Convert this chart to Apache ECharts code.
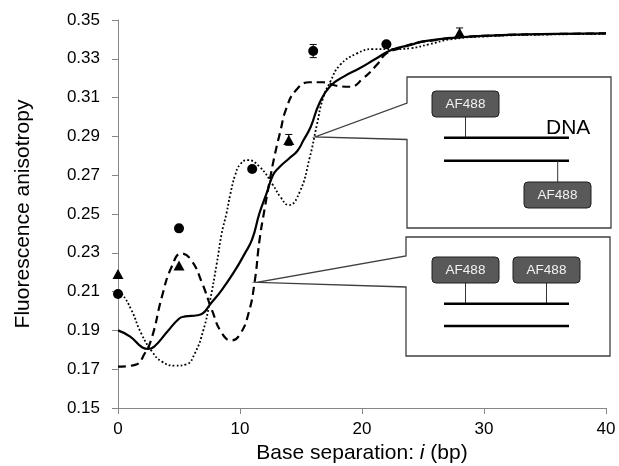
<!DOCTYPE html>
<html><head><meta charset="utf-8">
<script src="https://cdn.jsdelivr.net/npm/echarts@6/dist/echarts.min.js"></script>
<style>html,body{margin:0;padding:0;background:#fff}#c{width:619px;height:466px}</style>
</head><body><div id="c"></div>
<script>
// ---- data ----
const xAxisTicks = [0, 10, 20, 30, 40];
const yAxisTicks = [0.15, 0.17, 0.19, 0.21, 0.23, 0.25, 0.27, 0.29, 0.31, 0.33, 0.35];

const solidCurve = [[0,0.1900],[1,0.1868],[2,0.1812],[2.5,0.1804],[3,0.1818],[4,0.1890],[5,0.1960],[5.5,0.1972],[6.5,0.1978],[7,0.1990],[7.5,0.2030],[8.5,0.2108],[9.5,0.2200],[10.4,0.2297],[11,0.2370],[11.6,0.2505],[12.2,0.2610],[12.7,0.2700],[13.2,0.2740],[14,0.2785],[14.7,0.2825],[15.2,0.2880],[15.8,0.2950],[16.5,0.3070],[17.4,0.3160],[18.5,0.3208],[19.8,0.3251],[21.2,0.3303],[22.5,0.3348],[24,0.3372],[25,0.3390],[28,0.3411],[32,0.3423],[36,0.3428],[40,0.3431]];

const dashedCurve = [[0,0.1713],[1.4,0.1722],[2.2,0.1782],[2.8,0.1868],[3.6,0.2074],[4.4,0.2228],[5.2,0.2296],[6.0,0.2263],[6.9,0.2143],[7.7,0.2005],[8.5,0.1887],[9.3,0.1848],[10.0,0.1880],[10.7,0.1988],[11.2,0.2150],[11.6,0.2366],[12.0,0.2520],[12.4,0.2660],[12.8,0.2790],[13.3,0.2924],[13.8,0.3045],[14.6,0.3139],[15.7,0.3179],[16.8,0.3179],[17.9,0.3161],[19.0,0.3156],[20.1,0.3200],[21.2,0.3268],[22.0,0.3328],[23.1,0.3354],[24.0,0.3375],[26.4,0.3400],[28,0.3411],[32,0.3423],[36,0.3428],[40,0.3431]];

const dottedCurve = [[0,0.2100],[0.3,0.2091],[1.1,0.2005],[1.9,0.1885],[2.8,0.1790],[3.6,0.1739],[4.7,0.1718],[5.6,0.1725],[6.3,0.1782],[7.0,0.1902],[7.5,0.2040],[8.1,0.2246],[8.5,0.2400],[8.9,0.2505],[9.2,0.2600],[9.6,0.2700],[10.0,0.2755],[10.6,0.2778],[11.6,0.2744],[12.7,0.2650],[13.3,0.2589],[14.0,0.2546],[14.9,0.2615],[15.7,0.2787],[16.3,0.2959],[16.8,0.3096],[17.4,0.3182],[18.2,0.3268],[19.6,0.3328],[20.9,0.3350],[22.6,0.3350],[24.0,0.3355],[25.5,0.3375],[27.2,0.3400],[30,0.3415],[35,0.3425],[40,0.3428]];

const circleX = [0, 5, 11, 16, 22];
const circleY = [0.2088, 0.2426, 0.2732, 0.3340, 0.3375];
const circleErr = [0, 0, 0, 0.0034, 0.0012];

const triangleX = [0, 5, 14, 28];
const triangleY = [0.2191, 0.2235, 0.2882, 0.3434];
const triangleErr = [0, 0, 0.0028, 0.0025];

// ---- chart ----
const FONT = 'Liberation Sans';
const chart = echarts.init(document.getElementById('c'), null, {renderer: 'canvas'});

function errData(xs, ys, es) {
  const out = [];
  xs.forEach((x, i) => { if (es[i] > 0) out.push([x, ys[i] - es[i], ys[i] + es[i]]); });
  return out;
}
const errorBars = errData(circleX, circleY, circleErr).concat(errData(triangleX, triangleY, triangleErr));

const axisColor = '#868686';
const lineColor = '#000';

const insetStroke = '#3f3f3f';
function afBox(x, y) {
  return [
    {type: 'rect', shape: {x: x, y: y, width: 67, height: 26, r: 4}, style: {fill: '#595959', stroke: '#1f1f1f', lineWidth: 1}, z: 102},
    {type: 'text', x: x + 33.5, y: y + 13, style: {text: 'AF488', fill: '#f2f2f2', font: '13.5px "' + FONT + '"', align: 'center', verticalAlign: 'middle'}, z: 103}
  ];
}
function seg(x1, y1, x2, y2, w, c) {
  return {type: 'line', shape: {x1, y1, x2, y2}, style: {stroke: c || '#000', lineWidth: w}, z: 101};
}

const graphics = [
  {type: 'polygon', shape: {points: [[407,77],[611,77],[611,228],[407,228],[407,139.5],[315,137],[407,103]]}, style: {fill: '#fff', stroke: insetStroke, lineWidth: 1.3}, z: 100},
  ...afBox(432, 91),
  seg(465.5, 117, 465.5, 137.7, 1, '#333'),
  seg(444, 137.7, 569, 137.7, 2.5),
  {type: 'text', x: 546, y: 128, style: {text: 'DNA', fill: '#000', font: '21px "' + FONT + '"', align: 'left', verticalAlign: 'middle'}, z: 103},
  seg(444, 160.7, 569, 160.7, 2.5),
  seg(557.7, 160.7, 557.7, 182, 1, '#333'),
  ...afBox(524, 182),

  {type: 'polygon', shape: {points: [[406,237],[610,237],[610,356],[406,356],[406,287],[257,282.3],[406,256]]}, style: {fill: '#fff', stroke: insetStroke, lineWidth: 1.3}, z: 100},
  ...afBox(432, 257),
  ...afBox(513, 257),
  seg(465.5, 283, 465.5, 303.7, 1, '#333'),
  seg(546.5, 283, 546.5, 303.7, 1, '#333'),
  seg(444, 303.7, 569, 303.7, 2.5),
  seg(444, 326, 569, 326, 2.5)
];

chart.setOption({
  animation: false,
  backgroundColor: '#fff',
  grid: {left: 118, right: 13, top: 20, bottom: 58, containLabel: false, outerBoundsMode: 'none'},
  xAxis: {
    type: 'value', min: xAxisTicks[0], max: xAxisTicks[xAxisTicks.length - 1], interval: 10,
    axisLine: {show: true, onZero: false, lineStyle: {color: axisColor, width: 1}},
    axisTick: {show: true, inside: false, length: 6, lineStyle: {color: axisColor}},
    splitLine: {show: false},
    axisLabel: {color: '#000', fontFamily: FONT, fontSize: 17, margin: 13},
    name: '{n|Base separation: }{i|i}{n| (bp)}',
    nameLocation: 'middle', nameGap: 35,
    nameTextStyle: {rich: {n: {fontFamily: FONT, fontSize: 21, color: '#000'}, i: {fontFamily: FONT, fontSize: 21, fontStyle: 'italic', color: '#000'}}}
  },
  yAxis: {
    type: 'value', min: yAxisTicks[0], max: yAxisTicks[yAxisTicks.length - 1], interval: 0.02,
    axisLine: {show: true, onZero: false, lineStyle: {color: axisColor, width: 1}},
    axisTick: {show: true, inside: false, length: 6, lineStyle: {color: axisColor}},
    splitLine: {show: false},
    axisLabel: {color: '#000', fontFamily: FONT, fontSize: 17, margin: 18, formatter: v => v.toFixed(2)},
    name: 'Fluorescence anisotropy',
    nameLocation: 'middle', nameGap: 84,
    nameTextStyle: {fontFamily: FONT, fontSize: 21, color: '#000'}
  },
  graphic: {elements: graphics},
  series: [
    {type: 'line', name: 'solid', data: solidCurve, smooth: 0.5, showSymbol: false, symbol: 'none',
     lineStyle: {color: lineColor, width: 2.2, type: 'solid'}, z: 2},
    {type: 'line', name: 'dashed', data: dashedCurve, smooth: 0.5, showSymbol: false, symbol: 'none',
     lineStyle: {color: lineColor, width: 2.2, type: [8, 5]}, z: 2},
    {type: 'line', name: 'dotted', data: dottedCurve, smooth: 0.5, showSymbol: false, symbol: 'none',
     lineStyle: {color: lineColor, width: 1.8, type: [1.8, 2.2]}, z: 2},
    {type: 'custom', name: 'err', data: errorBars, z: 3,
     encode: {x: 0, y: [1, 2]},
     renderItem: function (params, api) {
       const x = api.value(0);
       const lo = api.coord([x, api.value(1)]);
       const hi = api.coord([x, api.value(2)]);
       const st = {stroke: '#000', lineWidth: 1};
       return {type: 'group', children: [
         {type: 'line', shape: {x1: lo[0], y1: lo[1], x2: hi[0], y2: hi[1]}, style: st},
         {type: 'line', shape: {x1: lo[0] - 3.5, y1: lo[1], x2: lo[0] + 3.5, y2: lo[1]}, style: st},
         {type: 'line', shape: {x1: hi[0] - 3.5, y1: hi[1], x2: hi[0] + 3.5, y2: hi[1]}, style: st}
       ]};
     }},
    {type: 'scatter', name: 'circles', data: circleX.map((x, i) => [x, circleY[i]]), symbol: 'circle', symbolSize: 10,
     itemStyle: {color: '#000', opacity: 1}, z: 4},
    {type: 'scatter', name: 'triangles', data: triangleX.map((x, i) => [x, triangleY[i]]), symbol: 'triangle', symbolSize: [11, 10],
     itemStyle: {color: '#000', opacity: 1}, z: 4}
  ]
});
</script>
</body></html>
